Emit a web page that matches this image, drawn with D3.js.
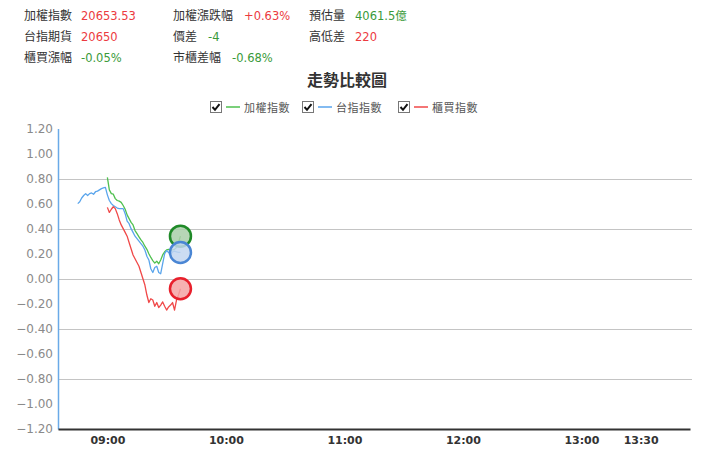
<!DOCTYPE html>
<html><head><meta charset="utf-8">
<script src="https://cdn.jsdelivr.net/npm/d3@7/dist/d3.min.js"></script>
<style>
html,body{margin:0;padding:0;background:#fff;}
svg{display:block;font-family:"DejaVu Sans","Noto Sans CJK TC",sans-serif;}
</style></head>
<body>
<svg id="c" width="720" height="460"></svg>
<script>
// ---- data ----
const timeLabels = ["08:45","08:46","08:47","08:48","08:49","08:50","08:51","08:52","08:53","08:54","08:55","08:56","08:57","08:58","08:59",
  "09:00","09:01","09:02","09:03","09:04","09:05","09:06","09:07","09:08","09:09","09:10","09:11","09:12","09:13","09:14","09:15",
  "09:16","09:17","09:18","09:19","09:20","09:21","09:22","09:23","09:24","09:25","09:26","09:27","09:28","09:29","09:30",
  "09:31","09:32","09:33","09:34","09:35","09:36","09:37"];
// 加權指數 (green) starts 09:00
const taiexValues = [null,null,null,null,null,null,null,null,null,null,null,null,null,null,null,
  0.81,0.71,0.68,0.675,0.64,0.625,0.62,0.61,0.585,0.555,0.51,0.48,0.45,0.43,0.385,0.36,
  0.335,0.31,0.29,0.26,0.235,0.20,0.17,0.145,0.125,0.14,0.12,0.15,0.19,0.215,0.23,
  0.235,0.23,0.23,0.235,0.25,0.29,0.34];
// 台指指數 (blue) starts 08:45
const futuresValues = [0.60,0.615,0.645,0.665,0.68,0.665,0.68,0.685,0.675,0.695,0.70,0.71,0.72,0.725,0.73,
  0.67,0.625,0.60,0.585,0.575,0.565,0.56,0.56,0.56,0.52,0.46,0.44,0.40,0.37,0.34,0.32,
  0.30,0.28,0.26,0.23,0.18,0.15,0.08,0.05,0.09,0.10,0.05,0.04,0.12,0.20,0.225,
  0.21,0.19,0.215,0.22,0.215,0.21,0.21];
// 櫃買指數 (red) starts 09:00
const otcValues = [null,null,null,null,null,null,null,null,null,null,null,null,null,null,null,
  0.57,0.53,0.555,0.575,0.56,0.52,0.47,0.43,0.40,0.37,0.34,0.29,0.24,0.19,0.16,0.13,
  0.10,0.05,0.00,-0.05,-0.13,-0.19,-0.16,-0.17,-0.22,-0.19,-0.23,-0.21,-0.185,-0.22,-0.25,
  -0.225,-0.21,-0.19,-0.25,-0.17,-0.13,-0.08];

const seriesNames = ["加權指數","台指指數","櫃買指數"];
const seriesColors = ["#4fc04f","#5aa5ec","#f04848"];
const circleFills = ["#a9cfa9","#c3d6f0","#f5a3a3"];
const circleStrokes = ["#1f8a28","#4a86d4","#e8202c"];

const yTicks = [1.2,1.0,0.8,0.6,0.4,0.2,0,-0.2,-0.4,-0.6,-0.8,-1.0,-1.2];
const gridTicks = [0.8,0.4,0,-0.4,-0.8];
const xTickLabels = ["09:00","10:00","11:00","12:00","13:00","13:30"];
const xDomainLabels = ["08:35","13:55"];

const headerRows = [
  [["加權指數","20653.53","up"],["加權漲跌幅","+0.63%","up"],["預估量","4061.5億","down"]],
  [["台指期貨","20650","up"],["價差","-4","down"],["高低差","220","up"]],
  [["櫃買漲幅","-0.05%","down"],["市櫃差幅","-0.68%","down"]]
];
const title = "走勢比較圖";

// ---- drawing ----
const svg = d3.select("#c");
const parse = d3.timeParse("%H:%M");
const plotLeft = 58, plotRight = 690, plotTop = 128.5, plotBottom = 429;

const x = d3.scaleTime().domain(xDomainLabels.map(parse)).range([plotLeft,plotRight]);
const y = d3.scaleLinear().domain([-1.2,1.2]).range([plotBottom,plotTop]);

// header
const colX = [[24,81],[173,null],[309,355]];
const rowY = [20,41,62];
const upColor = "#ec3a40", downColor = "#3a9a3a";
headerRows.forEach((row,ri)=>{
  row.forEach((cell,ci)=>{
    const lx = colX[ci][0];
    const lab = svg.append("text").attr("x",lx).attr("y",rowY[ri])
      .attr("font-size",12).attr("fill","#333").attr("font-family","Noto Sans CJK TC").text(cell[0]);
    const w = lab.node().getComputedTextLength();
    let vx = colX[ci][1] !== null ? Math.max(colX[ci][1], lx + w + 8) : lx + w + 11;
    svg.append("text").attr("x",vx).attr("y",rowY[ri])
      .attr("font-size",11.5).attr("fill",cell[2]==="up"?upColor:downColor).text(cell[1]);
  });
});

// title
svg.append("text").attr("x",347).attr("y",86).attr("text-anchor","middle")
  .attr("font-size",16).attr("font-weight","bold").attr("fill","#333")
  .attr("font-family","Noto Sans CJK TC").text(title);

// legend
const legX = [210,302,398];
seriesNames.forEach((n,i)=>{
  const g = svg.append("g").attr("transform",`translate(${legX[i]},101)`);
  g.append("rect").attr("x",0.5).attr("y",0.5).attr("width",11).attr("height",11)
    .attr("fill","#fff").attr("stroke","#777");
  g.append("path").attr("d","M2.5,6 L5,8.8 L9.5,3.2").attr("fill","none")
    .attr("stroke","#111").attr("stroke-width",2);
  g.append("line").attr("x1",16).attr("x2",30).attr("y1",6).attr("y2",6)
    .attr("stroke",seriesColors[i]).attr("stroke-width",1.5);
  g.append("text").attr("x",34).attr("y",10.5).attr("font-size",11).attr("fill","#555")
    .attr("font-family","Noto Sans CJK TC").attr("letter-spacing","0.5").text(n);
});

// gridlines
svg.append("g").selectAll("line").data(gridTicks).join("line")
  .attr("x1",plotLeft).attr("x2",692).attr("y1",d=>Math.round(y(d))+0.5).attr("y2",d=>Math.round(y(d))+0.5)
  .attr("stroke","#c4c4c4").attr("stroke-width",1);

// y axis
const yAxis = d3.axisLeft(y).tickValues(yTicks).tickSize(0).tickPadding(5).tickFormat(d3.format(".2f"));
const yg = svg.append("g").attr("transform",`translate(${plotLeft},0)`).call(yAxis);
yg.select(".domain").attr("stroke","#6aaae8").attr("stroke-width",1.5);
yg.selectAll("text").attr("font-size",12).attr("fill","#8a8a8a").attr("font-family","DejaVu Sans");

// x axis
const xAxis = d3.axisBottom(x).tickValues(xTickLabels.map(parse)).tickSize(0).tickPadding(7)
  .tickFormat(d3.timeFormat("%H:%M"));
const xg = svg.append("g").attr("transform",`translate(0,${plotBottom})`).call(xAxis);
xg.select(".domain").attr("stroke","#333").attr("stroke-width",2);
xg.selectAll("text").attr("font-size",11).attr("font-weight","bold").attr("fill","#333").attr("font-family","DejaVu Sans");

// lines
const times = timeLabels.map(parse);
const allSeries = [taiexValues, futuresValues, otcValues];
const line = d3.line().defined(d=>d.v!==null).x(d=>x(d.t)).y(d=>y(d.v));
allSeries.forEach((vals,i)=>{
  const pts = vals.map((v,k)=>({t:times[k],v:v}));
  svg.append("path").datum(pts).attr("d",line).attr("fill","none")
    .attr("stroke",seriesColors[i]).attr("stroke-width",1.3).attr("stroke-linejoin","round");
});
// end circles
allSeries.forEach((vals,i)=>{
  const k = vals.length-1;
  svg.append("circle").attr("cx",x(times[k])).attr("cy",y(vals[k])).attr("r",10.5)
    .attr("fill",circleFills[i]).attr("fill-opacity",0.85)
    .attr("stroke",circleStrokes[i]).attr("stroke-width",2.5);
});
</script>
</body></html>
